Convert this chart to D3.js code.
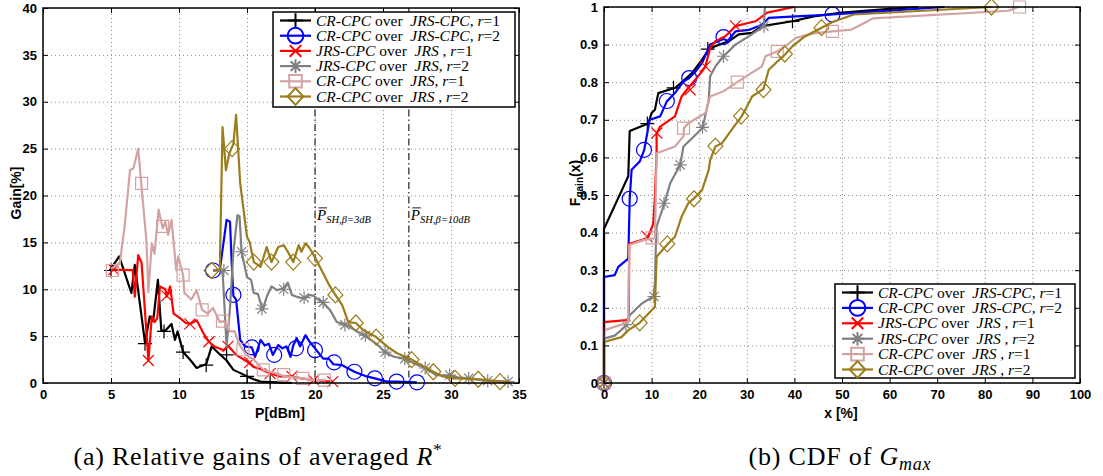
<!DOCTYPE html>
<html>
<head>
<meta charset="utf-8">
<script src="https://cdn.jsdelivr.net/npm/d3@7"></script>
<style>
  body { margin: 0; background: #fff; }
  svg { display: block; }
  .tick text { font-family: "Liberation Sans", Arial, sans-serif; font-weight: bold; font-size: 13px; fill: #000; }
  .grid line { stroke: #8c8c8c; stroke-dasharray: 1,3; stroke-width: 1; }
  .grid path, .ax path { display: none; }
  .ax line { stroke: #000; stroke-width: 1; }
  .serif { font-family: "Liberation Serif", "DejaVu Serif", serif; white-space: pre; }
</style>
</head>
<body>
<svg id="chart" width="1103" height="476"></svg>
<script>
// ---- tick labels / axis ranges ----
var gain_x_ticks = [0, 5, 10, 15, 20, 25, 30, 35];
var gain_y_ticks = [0, 5, 10, 15, 20, 25, 30, 35, 40];
var cdf_x_ticks  = [0, 10, 20, 30, 40, 50, 60, 70, 80, 90, 100];
var cdf_y_ticks  = [0, 0.1, 0.2, 0.3, 0.4, 0.5, 0.6, 0.7, 0.8, 0.9, 1];

// ---- series info ----
var series_colors  = ["#000000", "#0000ff", "#ff0000", "#808080", "#d3a3a3", "#9b7d1c"];
var series_markers = ["plus", "circle", "cross", "star", "square", "diamond"];
// legend text: [text, italic?]
var legend_left = [
    [["CR-CPC",1],[" over  ",0],["JRS-CPC",1],[", ",0],["r",1],["=1",0]],
    [["CR-CPC",1],[" over  ",0],["JRS-CPC",1],[", ",0],["r",1],["=2",0]],
    [["JRS-CPC",1],[" over  ",0],["JRS",1],[" , ",0],["r",1],["=1",0]],
    [["JRS-CPC",1],[" over  ",0],["JRS",1],[", ",0],["r",1],["=2",0]],
    [["CR-CPC",1],[" over  ",0],["JRS",1],[", ",0],["r",1],["=1",0]],
    [["CR-CPC",1],[" over  ",0],["JRS",1],[" , ",0],["r",1],["=2",0]]
];
var legend_right = [
    [["CR-CPC",1],[" over  ",0],["JRS-CPC",1],[", ",0],["r",1],["=1",0]],
    [["CR-CPC",1],[" over  ",0],["JRS-CPC",1],[", ",0],["r",1],["=2",0]],
    [["JRS-CPC",1],[" over  ",0],["JRS",1],[" , ",0],["r",1],["=1",0]],
    [["JRS-CPC",1],[" over  ",0],["JRS",1],[" , ",0],["r",1],["=2",0]],
    [["CR-CPC",1],[" over  ",0],["JRS",1],[" , ",0],["r",1],["=1",0]],
    [["CR-CPC",1],[" over  ",0],["JRS",1],[" , ",0],["r",1],["=2",0]]
];

// ---- (a) gain vs P[dBm] : [P, gain%] ----
var gain_k1 = [[4.9,12.0],[5.6,13.5],[6.5,9.6],[6.75,12.6],[7.5,4.3],[7.85,7.1],[8.1,6.6],[8.45,11.0],[8.7,5.6],[9.0,5.6],[9.45,6.3],[9.7,4.6],[9.9,5.5],[10.3,3.3],[10.8,2.5],[11.3,1.6],[11.6,1.8],[12.0,2.0],[12.4,3.9],[12.9,3.2],[13.5,2.4],[14.0,1.4],[14.6,1.0],[15.0,0.7],[15.5,0.4],[16.0,0.15],[16.7,0.1],[17.5,0.05],[18.3,0]];
var gain_k1_marks = [[5,12],[7.5,4.2],[8.9,5.5],[10.3,3.3],[12.0,1.9],[13.5,3.0],[15.0,0.7],[16.7,0.1]];
var gain_b2 = [[12.5,12.0],[13.0,12.05],[13.5,17.4],[13.75,17.2],[13.9,12.0],[14.0,9.3],[14.2,8.9],[14.5,4.6],[14.85,3.9],[15.35,3.8],[15.6,2.8],[16.0,4.6],[16.3,4.0],[16.6,4.2],[16.9,3.0],[17.3,4.05],[17.6,3.7],[17.9,3.9],[18.2,2.8],[18.4,4.0],[18.65,4.8],[18.9,3.9],[19.3,5.1],[19.6,4.4],[20.0,3.7],[20.6,2.6],[21.0,2.6],[21.35,2.0],[22.0,1.9],[22.9,1.2],[23.8,0.7],[24.4,0.5],[25.3,0.15],[26.0,0.15],[27.5,0.07]];
var gain_b2_marks = [[12.5,12],[14.0,9.4],[15.35,3.8],[17.0,3.0],[18.6,3.7],[20.0,3.5],[21.4,2.2],[22.9,1.2],[24.4,0.5],[26.0,0.15],[27.5,0.07]];
var gain_r1 = [[5,12.1],[6.6,12.05],[6.75,9.2],[7.0,13.65],[7.25,12.8],[7.75,2.4],[8.0,7.1],[8.2,6.5],[8.4,6.9],[8.6,10.3],[9.0,10.0],[9.1,9.2],[9.35,10.3],[9.6,7.4],[10.0,7.0],[10.5,6.4],[10.8,6.3],[11.3,6.7],[11.8,5.3],[12.2,4.4],[12.6,3.9],[13.3,3.5],[13.6,4.0],[14.2,3.0],[15.0,2.3],[15.5,1.7],[16.0,1.5],[16.4,1.2],[17.4,0.7],[18.3,0.7],[19.0,0.5],[19.9,0.3],[20.6,0.2],[21.3,0.14]];
var gain_r1_marks = [[5.2,12.1],[7.75,2.4],[9.1,9.3],[10.8,6.3],[12.2,4.4],[13.6,3.9],[15.2,2.2],[16.7,1.0],[18.3,0.7],[19.9,0.3],[21.3,0.14]];
var gain_g2 = [[13.0,12.0],[13.2,12.0],[13.35,8.0],[13.5,3.9],[13.75,8.0],[14.0,14.0],[14.3,17.9],[14.45,17.8],[14.6,14.0],[15.0,11.3],[15.3,11.0],[15.5,9.6],[15.8,9.5],[16.15,7.8],[16.45,9.2],[16.8,10.3],[17.2,9.9],[17.7,10.1],[18.0,10.7],[18.3,9.4],[18.65,9.2],[19.2,9.0],[19.6,9.4],[19.9,9.3],[20.6,8.5],[21.1,7.8],[21.6,6.5],[22.3,6.2],[23.1,5.5],[23.8,4.9],[24.5,4.2],[25.15,3.3],[25.8,2.8],[26.6,2.6],[27.4,2.0],[28.1,1.6],[28.9,0.85],[29.9,0.8],[30.5,0.6],[31.3,0.5],[32.0,0.35],[32.7,0.25],[34.2,0.14]];
var gain_g2_marks = [[13.3,12],[14.6,14.0],[16.1,7.9],[17.7,10.0],[19.2,9.1],[20.6,8.6],[22.2,6.2],[23.7,5.1],[25.15,3.3],[26.6,2.6],[28.1,1.6],[29.9,0.85],[31.3,0.5],[32.7,0.25],[34.2,0.14]];
var gain_p1 = [[5,12.2],[5.65,12.8],[6.0,16.7],[6.4,22.7],[6.65,22.9],[7.0,25.0],[7.3,20.0],[7.6,15.3],[7.75,9.7],[8.0,14.9],[8.2,13.8],[8.5,18.5],[8.8,16.5],[9.0,17.2],[9.2,15.8],[9.45,17.4],[9.8,12.0],[9.95,13.5],[10.3,11.5],[10.4,9.6],[10.9,8.9],[11.3,9.9],[11.7,7.8],[12.1,7.4],[12.5,8.0],[13.0,6.5],[13.3,6.6],[13.75,5.5],[14.1,5.5],[14.4,4.2],[14.7,3.5],[15.1,2.8],[15.5,2.5],[16.2,1.4],[17.2,1.0],[17.8,0.7],[19.1,0.5],[19.9,0.3],[20.8,0.3]];
var gain_p1_marks = [[5.1,12],[7.25,21.3],[8.8,16.7],[10.3,11.5],[11.7,7.8],[13.2,6.6],[14.7,3.6],[16.2,1.4],[17.7,0.9],[19.1,0.5],[20.7,0.3]];
var gain_o2 = [[12.5,12.0],[13.0,12.05],[13.2,27.3],[13.45,22.7],[13.7,24.5],[14.0,25.5],[14.2,28.6],[14.5,21.3],[15.0,15.6],[15.2,15.0],[15.5,12.9],[16.0,12.4],[16.45,14.5],[16.8,12.9],[17.3,14.5],[17.7,14.7],[18.0,14.0],[18.4,12.9],[18.8,14.7],[19.0,14.0],[19.3,14.9],[19.6,14.4],[20.0,13.4],[20.6,11.7],[21.1,10.3],[21.5,9.4],[22.0,8.3],[22.45,6.5],[23.0,6.4],[23.55,5.65],[24.5,4.9],[25.3,3.9],[26.0,3.2],[27.1,2.5],[28.0,1.74],[28.7,1.2],[29.4,0.7],[30.3,0.5],[32.0,0.4],[33.0,0.25],[33.6,0.14],[34.3,0.07]];
var gain_o2_marks = [[12.4,12],[13.9,25.0],[15.5,12.9],[16.8,12.9],[18.4,12.9],[20.0,13.3],[21.5,9.4],[23.0,6.4],[24.5,4.9],[27.1,2.5],[28.7,1.2],[30.3,0.5],[32.0,0.4],[33.6,0.14]];

// reference lines in (a)
var ref_lines = [20, 26.9];
var ref_labels = ["SH,\u03b2=3dB", "SH,\u03b2=10dB"];

// ---- (b) CDF of G_max : [x%, F] ----
var cdf_k1 = [[0,0],[0,0.41],[5.1,0.55],[5.4,0.67],[9.3,0.69],[10,0.718],[10.7,0.727],[11.4,0.771],[14.6,0.784],[15,0.785],[18.5,0.824],[20.6,0.86],[22,0.887],[23.4,0.896],[26.2,0.909],[28.3,0.927],[31.1,0.931],[33.2,0.949],[39.6,0.962],[44,0.975],[50,0.985],[60,0.995],[66,1.0]];
var cdf_k1_marks = [[0,0],[9.1,0.69],[14.6,0.785],[21.8,0.888],[39.6,0.962]];
var cdf_b2 = [[0,0],[0,0.282],[2.25,0.287],[3.0,0.309],[5.1,0.331],[5.4,0.49],[5.8,0.567],[7.5,0.589],[8.45,0.62],[9.6,0.70],[11.8,0.709],[13.2,0.749],[14.9,0.771],[16.7,0.802],[17.9,0.811],[19.2,0.828],[20.6,0.851],[22.3,0.9],[25.1,0.915],[26.0,0.91],[27.6,0.935],[30.4,0.939],[33.2,0.953],[34.6,0.971],[40.3,0.975],[48,0.98],[71.5,1.0]];
var cdf_b2_marks = [[0,0],[5.4,0.49],[8.4,0.62],[13.2,0.75],[17.9,0.811],[25.1,0.92],[48,0.98]];
var cdf_r1 = [[0,0],[0,0.162],[4.7,0.167],[5.2,0.17],[5.3,0.37],[8.9,0.384],[9.3,0.389],[10.35,0.424],[10.7,0.496],[11.05,0.611],[11.05,0.664],[11.8,0.682],[14.9,0.709],[16.3,0.762],[17.4,0.78],[19.2,0.807],[20.6,0.829],[21.3,0.842],[22.3,0.891],[23.4,0.909],[25.5,0.922],[27.6,0.949],[31.8,0.962],[34.3,0.985],[39.9,1.0]];
var cdf_r1_marks = [[0,0],[9.0,0.39],[11.1,0.665],[18.1,0.78],[21.3,0.842],[27.6,0.95]];
var cdf_g2 = [[0,0],[0,0.118],[2.25,0.126],[4.7,0.153],[5.4,0.18],[7.9,0.211],[10.35,0.23],[10.7,0.264],[10.9,0.371],[11.05,0.416],[12.7,0.478],[13.9,0.531],[16,0.58],[16.7,0.629],[18.5,0.651],[20.7,0.678],[22,0.753],[22.3,0.816],[23.4,0.842],[25.1,0.869],[27.6,0.9],[30.4,0.922],[33.6,0.949],[33.8,1.0]];
var cdf_g2_marks = [[0,0],[4.6,0.155],[10.5,0.23],[12.6,0.478],[16,0.58],[20.7,0.68],[25.1,0.869],[33.6,0.949]];
var cdf_p1 = [[0,0],[0,0.14],[5.1,0.162],[5.3,0.367],[8.2,0.38],[10.1,0.384],[10.7,0.385],[11.05,0.611],[14.9,0.629],[16.7,0.656],[16.8,0.678],[17.7,0.691],[21.3,0.718],[22.3,0.762],[25.1,0.776],[28,0.8],[30.4,0.82],[33.2,0.842],[33.9,0.869],[36.4,0.882],[38.9,0.904],[40.3,0.918],[44,0.93],[48,0.935],[52,0.94],[55.5,0.963],[56.5,0.97],[85,0.99],[87,1.0]];
var cdf_p1_marks = [[0,0],[10.1,0.386],[16.7,0.678],[28,0.8],[36.4,0.882],[48,0.935],[87.3,1.0]];
var cdf_o2 = [[0,0],[0,0.109],[3.66,0.122],[5.07,0.14],[7.5,0.16],[9.3,0.184],[10.7,0.202],[11.05,0.336],[13.5,0.371],[14.9,0.389],[16.3,0.442],[17.7,0.478],[18.9,0.491],[20.6,0.513],[22,0.567],[22.3,0.593],[23.4,0.629],[24.8,0.638],[27.6,0.687],[28.8,0.707],[29.7,0.727],[31.1,0.762],[33.5,0.782],[34.6,0.833],[36.1,0.851],[38,0.873],[39.6,0.896],[42,0.92],[45.7,0.945],[48,0.96],[52.5,0.98],[81.4,1.0]];
var cdf_o2_marks = [[0,0],[7.5,0.16],[13.3,0.37],[18.9,0.49],[23.4,0.63],[28.8,0.71],[33.5,0.78],[38,0.875],[45.7,0.945],[81.4,1.0]];

var gain_series = [[gain_k1, gain_k1_marks], [gain_b2, gain_b2_marks], [gain_r1, gain_r1_marks],
                   [gain_g2, gain_g2_marks], [gain_p1, gain_p1_marks], [gain_o2, gain_o2_marks]];
var cdf_series  = [[cdf_k1, cdf_k1_marks], [cdf_b2, cdf_b2_marks], [cdf_r1, cdf_r1_marks],
                   [cdf_g2, cdf_g2_marks], [cdf_p1, cdf_p1_marks], [cdf_o2, cdf_o2_marks]];

var svg = d3.select("#chart");
svg.append("rect").attr("width", 1103).attr("height", 476).attr("fill", "#fff");

// draws a marker of given type centred at 0,0 into group g
function marker(g, type, color, sw, s) {
    s = s || 1;
    var p = d3.path();
    if (type == "plus") {
        p.moveTo(-7*s, 0); p.lineTo(7*s, 0); p.moveTo(0, -7*s); p.lineTo(0, 7*s);
    } else if (type == "cross") {
        p.moveTo(-5.5*s, -5.5*s); p.lineTo(5.5*s, 5.5*s); p.moveTo(-5.5*s, 5.5*s); p.lineTo(5.5*s, -5.5*s);
    } else if (type == "star") {
        p.moveTo(-6.5*s, 0); p.lineTo(6.5*s, 0); p.moveTo(0, -6.5*s); p.lineTo(0, 6.5*s);
        p.moveTo(-4.6*s, -4.6*s); p.lineTo(4.6*s, 4.6*s); p.moveTo(-4.6*s, 4.6*s); p.lineTo(4.6*s, -4.6*s);
    } else if (type == "circle") {
        p.arc(0, 0, 7.5*s, 0, 2*Math.PI);
    } else if (type == "square") {
        p.rect(-6*s, -6*s, 12*s, 12*s);
    } else if (type == "diamond") {
        p.moveTo(0, -8*s); p.lineTo(7.5*s, 0); p.lineTo(0, 8*s); p.lineTo(-7.5*s, 0); p.closePath();
    }
    g.append("path").attr("d", p.toString()).attr("fill", "none")
        .attr("stroke", color).attr("stroke-width", sw);
}

function drawPanel(cfg) {
    var x = cfg.x, y = cfg.y;
    var x0 = x.range()[0], x1 = x.range()[1], y0 = y.range()[0], y1 = y.range()[1];
    var g = svg.append("g");

    // grid
    g.append("g").attr("class", "grid").attr("transform", "translate(0," + y0 + ")")
        .call(d3.axisBottom(x).tickValues(cfg.xt).tickSizeInner(-(y0 - y1)).tickSizeOuter(0).tickFormat(""));
    g.append("g").attr("class", "grid").attr("transform", "translate(" + x0 + ",0)")
        .call(d3.axisLeft(y).tickValues(cfg.yt).tickSizeInner(-(x1 - x0)).tickSizeOuter(0).tickFormat(""));

    // extra content under the curves
    if (cfg.under) cfg.under(g);

    // curves
    var line = d3.line().x(function(d) { return x(d[0]); }).y(function(d) { return y(d[1]); });
    cfg.series.forEach(function(s, i) {
        g.append("path").attr("d", line(s[0])).attr("fill", "none")
            .attr("stroke", series_colors[i]).attr("stroke-width", 2.2)
            .attr("stroke-linejoin", "round");
        s[1].forEach(function(m) {
            var mg = g.append("g").attr("transform", "translate(" + x(m[0]) + "," + y(m[1]) + ")");
            marker(mg, series_markers[i], series_colors[i], 1.2);
        });
    });

    // axes (ticks inward, MATLAB style)
    var fmt = d3.format("~g");
    g.append("g").attr("class", "ax").attr("transform", "translate(0," + y0 + ")")
        .call(d3.axisBottom(x).tickValues(cfg.xt).tickSizeInner(-5).tickSizeOuter(0).tickPadding(7).tickFormat(fmt));
    g.append("g").attr("class", "ax").attr("transform", "translate(0," + y1 + ")")
        .call(d3.axisTop(x).tickValues(cfg.xt).tickSizeInner(-5).tickSizeOuter(0).tickFormat(""));
    g.append("g").attr("class", "ax").attr("transform", "translate(" + x0 + ",0)")
        .call(d3.axisLeft(y).tickValues(cfg.yt).tickSizeInner(-5).tickSizeOuter(0).tickPadding(6).tickFormat(fmt));
    g.append("g").attr("class", "ax").attr("transform", "translate(" + x1 + ",0)")
        .call(d3.axisRight(y).tickValues(cfg.yt).tickSizeInner(-5).tickSizeOuter(0).tickFormat(""));
    g.append("rect").attr("x", x0).attr("y", y1).attr("width", x1 - x0).attr("height", y0 - y1)
        .attr("fill", "none").attr("stroke", "#000").attr("stroke-width", 1.5);

    // legend
    var L = cfg.legend;
    var lg = g.append("g");
    lg.append("rect").attr("x", L.x).attr("y", L.y).attr("width", L.w).attr("height", L.h)
        .attr("fill", "#fff").attr("stroke", "#000").attr("stroke-width", 1.5);
    L.rows.forEach(function(row, i) {
        var cy = L.y + 8.5 + i * L.dy;
        lg.append("line").attr("x1", L.x + 7).attr("x2", L.x + 38).attr("y1", cy).attr("y2", cy)
            .attr("stroke", series_colors[i]).attr("stroke-width", 2.2);
        var mg = lg.append("g").attr("transform", "translate(" + (L.x + 22.5) + "," + cy + ")");
        marker(mg, series_markers[i], series_colors[i], 2, 1.05);
        var t = lg.append("text").attr("class", "serif").attr("x", L.x + 43).attr("y", cy + 5)
            .attr("font-size", 15.5);
        row.forEach(function(part) {
            t.append("tspan").attr("font-style", part[1] ? "italic" : "normal").text(part[0]);
        });
    });
}

var xL = d3.scaleLinear().domain([0, 35]).range([43, 519]);
var yL = d3.scaleLinear().domain([0, 40]).range([383, 8]);
var xR = d3.scaleLinear().domain([0, 100]).range([604, 1080]);
var yR = d3.scaleLinear().domain([0, 1]).range([383, 7]);

drawPanel({
    x: xL, y: yL, xt: gain_x_ticks, yt: gain_y_ticks, series: gain_series,
    legend: {x: 273, y: 12, w: 242, h: 95, dy: 15.2, rows: legend_left},
    under: function(g) {
        ref_lines.forEach(function(v, i) {
            g.append("line").attr("x1", xL(v)).attr("x2", xL(v)).attr("y1", yL(40)).attr("y2", yL(0))
                .attr("stroke", "#333").attr("stroke-width", 1.3).attr("stroke-dasharray", "7,3,1.5,3");
            var tx = xL(v) + 2, ty = yL(17.4);
            var t = g.append("text").attr("class", "serif").attr("x", tx).attr("y", ty).attr("font-style", "italic");
            t.append("tspan").attr("font-size", 15).text("P");
            t.append("tspan").attr("font-size", 10.5).attr("dy", 3).text(ref_labels[i]);
            g.append("line").attr("x1", tx + 1.5).attr("x2", tx + 10).attr("y1", ty - 12).attr("y2", ty - 12)
                .attr("stroke", "#000").attr("stroke-width", 0.9);
        });
    }
});

drawPanel({
    x: xR, y: yR, xt: cdf_x_ticks, yt: cdf_y_ticks, series: cdf_series,
    legend: {x: 835, y: 284, w: 240, h: 94, dy: 15.4, rows: legend_right}
});

// axis titles
var sans = "'Liberation Sans', Arial, sans-serif";
svg.append("text").attr("x", 280).attr("y", 418).attr("text-anchor", "middle")
    .attr("font-family", sans).attr("font-weight", "bold").attr("font-size", 14).text("P[dBm]");
svg.append("text").attr("x", 841).attr("y", 418).attr("text-anchor", "middle")
    .attr("font-family", sans).attr("font-weight", "bold").attr("font-size", 14).text("x [%]");
svg.append("text").attr("transform", "translate(21,193) rotate(-90)").attr("text-anchor", "middle")
    .attr("font-family", sans).attr("font-weight", "bold").attr("font-size", 14).text("Gain[%]");
var fl = svg.append("text").attr("transform", "translate(580,183) rotate(-90)").attr("text-anchor", "middle")
    .attr("font-family", sans).attr("font-weight", "bold").attr("font-size", 14);
fl.append("tspan").text("F");
fl.append("tspan").attr("font-size", 10).attr("dy", 3).text("gain");
fl.append("tspan").attr("dy", -3).text("(x)");

// captions
var ca = svg.append("text").attr("class", "serif").attr("x", 258).attr("y", 465)
    .attr("text-anchor", "middle").attr("font-size", 26).attr("letter-spacing", 0.8);
ca.append("tspan").text("(a) Relative gains of averaged ");
ca.append("tspan").attr("font-style", "italic").text("R");
ca.append("tspan").attr("font-size", 17).attr("dy", -10).text("*");
var cb = svg.append("text").attr("class", "serif").attr("x", 840).attr("y", 465)
    .attr("text-anchor", "middle").attr("font-size", 26).attr("letter-spacing", 0.8);
cb.append("tspan").text("(b) CDF of ");
cb.append("tspan").attr("font-style", "italic").text("G");
cb.append("tspan").attr("font-style", "italic").attr("font-size", 18).attr("dy", 5).text("max");
</script>
</body>
</html>
